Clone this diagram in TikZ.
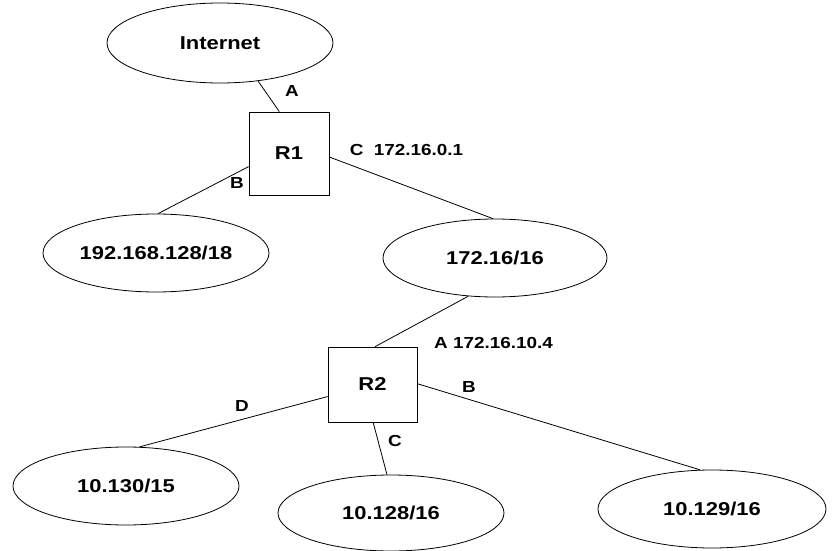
\documentclass[tikz,border=0pt]{standalone}
\usepackage{fontspec}
\newfontfamily\wfont[FakeStretch=1.18]{Liberation Sans}
\usetikzlibrary{shapes.geometric}
\begin{document}
\begin{tikzpicture}[x=1pt,y=-1pt,
  every node/.style={font=\wfont\fontsize{18.6}{22}\selectfont\bfseries},
  net/.style={draw, ellipse, line width=0.8pt, inner sep=0pt},
  router/.style={draw, rectangle, line width=0.8pt, inner sep=0pt},
  link/.style={line width=0.8pt},
  lbl/.style={inner sep=0pt, font=\wfont\fontsize{16}{19}\selectfont\bfseries}]
\useasboundingbox (0,0) rectangle (839,551);
\node[net, minimum width=226pt, minimum height=80pt] (inet) at (220,43) {\raisebox{-2pt}{Internet}};
\node[router, minimum width=80pt, minimum height=83pt] (r1) at (289,153.5) {R1};
\node[net, minimum width=226pt, minimum height=78pt] (n192) at (156,253) {192.168.128/18};
\node[net, minimum width=224pt, minimum height=78pt] (n172) at (495,258) {172.16/16};
\node[router, minimum width=89pt, minimum height=75pt] (r2) at (372.5,384.5) {R2};
\node[net, minimum width=226pt, minimum height=78pt] (n130) at (126,486) {10.130/15};
\node[net, minimum width=226pt, minimum height=76pt] (n128) at (391,513) {10.128/16};
\node[net, minimum width=228pt, minimum height=78pt] (n129) at (712,509) {10.129/16};

\draw[link] (inet.-45) -- (r1.103.5);
\draw[link] (r1.198.6) -- (n192.87);
\draw[link] (r1.-5) -- (n172.93);
\draw[link] (n172.-125.7) -- (r2.86.2);
\draw[link] (r2.1.9) -- (n129.107);
\draw[link] (r2.-89) -- (n128.96);
\draw[link] (r2.195.7) -- (n130.71.6);

\node[lbl] (la1) at (292,91) {A};
\node[lbl] (lb1) at (237,183) {B};
\node[lbl] (lc1) at (406.5,150) {C\ \ 172.16.0.1};
\node[lbl] (la2) at (493.5,342.5) {A 172.16.10.4};
\node[lbl] (lb2) at (469,387) {B};
\node[lbl] (lc2) at (395,441) {C};
\node[lbl] (ld2) at (242,406) {D};
\end{tikzpicture}
\end{document}
